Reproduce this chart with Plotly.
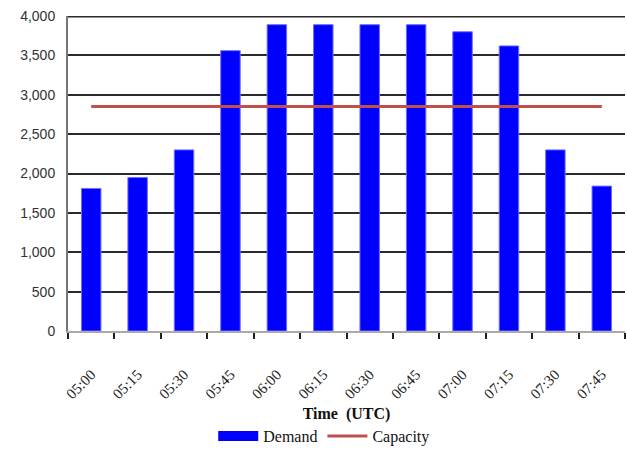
import plotly.graph_objects as go

# 15-minute intervals and traffic values
times = ["05:00", "05:15", "05:30", "05:45", "06:00", "06:15",
         "06:30", "06:45", "07:00", "07:15", "07:30", "07:45"]
demand = [1810, 1950, 2300, 3560, 3890, 3890, 3890, 3890, 3800, 3620, 2300, 1840]
capacity = [2850] * len(times)
y_ticks = [0, 500, 1000, 1500, 2000, 2500, 3000, 3500, 4000]

fig = go.Figure()

fig.add_trace(go.Bar(
    x=times, y=demand, name="Demand",
    marker=dict(color="#0000FF", line=dict(color="#7070FF", width=1)),
    width=0.42, showlegend=False,
))
# legend entry for the bars drawn as a thick blue swatch
fig.add_trace(go.Scatter(
    x=[None], y=[None], mode="lines", name="Demand",
    line=dict(color="#0000FF", width=11),
))
fig.add_trace(go.Scatter(
    x=times, y=capacity, mode="lines", name="Capacity",
    line=dict(color="#C0504D", width=3),
))

fig.update_layout(
    width=627, height=455,
    margin=dict(l=68, r=2, t=16, b=120),
    paper_bgcolor="white", plot_bgcolor="white",
    bargap=0.58,
    font=dict(family="Liberation Serif", color="#111111", size=13),
    legend=dict(
        orientation="h", x=0.46, xanchor="center", y=-0.28, yanchor="top",
        font=dict(family="Liberation Serif", size=16, color="#111111"),
        itemwidth=40, traceorder="normal",
    ),
    xaxis=dict(
        type="category",
        tickangle=-45,
        ticks="outside", tickson="boundaries", ticklen=6, tickcolor="#222222",
        tickwidth=1.5,
        showline=True, linecolor="#AAAAAA", linewidth=2,
        ticklabelstandoff=27,
        tickfont=dict(family="Liberation Serif", size=15, color="#222222"),
        title=dict(text="<b>Time  (UTC)</b>", standoff=7,
                   font=dict(family="Liberation Serif", size=16, color="#111111")),
        automargin=False,
    ),
    yaxis=dict(
        range=[0, 4000], tickvals=y_ticks,
        tickformat=",d",
        showgrid=True, gridcolor="#2A2A2A", gridwidth=1.5,
        showline=True, linecolor="#777777", linewidth=2,
        zeroline=False,
        ticks="", ticklabelstandoff=8,
        tickfont=dict(family="Liberation Sans", size=14, color="#333333"),
        automargin=False,
    ),
)

# heavier rule along the top of the plot area
fig.add_shape(type="line", xref="paper", yref="y", x0=0, x1=1, y0=4000, y1=4000,
              line=dict(color="#2A2A2A", width=3))

fig.write_html("out.html")
